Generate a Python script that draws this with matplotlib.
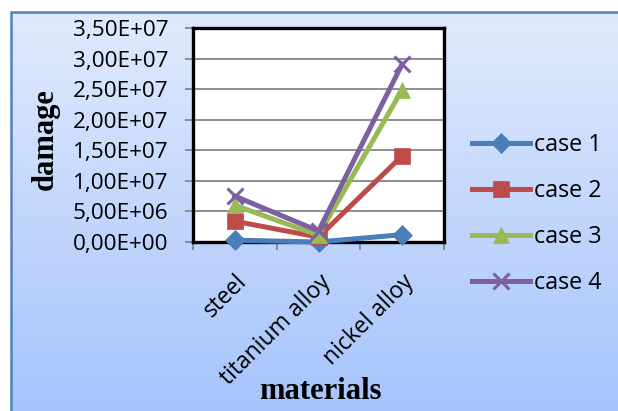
import numpy as np
import matplotlib.pyplot as plt
from matplotlib.patches import Rectangle
from matplotlib.ticker import FixedLocator, FuncFormatter

materials = ["steel", "titanium alloy", "nickel alloy"]
case1 = [0.3e6, 0.0, 1.2e6]
case2 = [3.4e6, 0.8e6, 14.1e6]
case3 = [6.0e6, 1.1e6, 24.9e6]
case4 = [7.5e6, 1.8e6, 29.1e6]
series = [("case 1", case1), ("case 2", case2), ("case 3", case3), ("case 4", case4)]
yticks = np.arange(0, 3.5e7 + 1, 5e6)

colors = ["#4a7ebb", "#be4b48", "#98b954", "#7d60a0"]
markers = ["D", "s", "^", "x"]
msizes = [10, 11, 11, 12]

W, H = 618, 411
fig = plt.figure(figsize=(W / 100, H / 100), dpi=100)
fig.patch.set_facecolor("white")

# chart area gradient background
bg = fig.add_axes([11 / W, 0, 1 - 11 / W, (H - 12) / H])
grad = np.linspace(0, 1, 256).reshape(-1, 1)
top = np.array([0xe0, 0xea, 0xfc]) / 255
bot = np.array([0xa6, 0xc4, 0xfd]) / 255
img = top + (bot - top) * grad[:, :, None]
bg.imshow(img, aspect="auto", extent=[0, 1, 0, 1], origin="upper")
bg.set_axis_off()
fig.patches.append(Rectangle((11 / W, -0.01), 1.0, (H - 12) / H + 0.01,
                             transform=fig.transFigure, fill=False,
                             edgecolor="#4f81bd", lw=1.8, zorder=5))

ax = fig.add_axes([193 / W, (H - 242) / H, (444 - 193) / W, (242 - 28) / H])
ax.set_facecolor("white")
x = np.arange(len(materials))
for (name, vals), c, m, ms in zip(series, colors, markers, msizes):
    ax.plot(x, vals, color=c, lw=3.6, marker=m, markersize=ms,
            markeredgewidth=2.2 if m == "x" else 0.5, markeredgecolor=c,
            label=name, clip_on=False, zorder=3)

ax.set_xlim(-0.5, 2.5)
ax.set_ylim(0, 3.5e7)
ax.yaxis.set_major_locator(FixedLocator(yticks))
ax.yaxis.set_major_formatter(FuncFormatter(
    lambda v, p: ("%.2E" % v).replace(".", ",")))
ax.grid(axis="y", color="#868686", lw=1.3)
ax.set_axisbelow(True)
ax.xaxis.set_major_locator(FixedLocator([-0.5, 0.5, 1.5, 2.5]))
ax.xaxis.set_minor_locator(FixedLocator(x))
ax.set_xticklabels([])
ax.set_xticklabels(materials, minor=True, rotation=45, ha="right",
                   rotation_mode="anchor", fontsize=16.5, family="Open Sans")
ax.tick_params(axis="x", which="minor", length=0, pad=20)
ax.tick_params(axis="both", which="major", color="#868686", width=1.3, length=5.8)
ax.tick_params(axis="y", labelsize=16.2, pad=12)
for lab in ax.get_yticklabels():
    lab.set_family("Open Sans")
for s in ax.spines.values():
    s.set_linewidth(2.4)
    s.set_color("black")

fig.text(45 / W, 1 - 139 / H, "damage", rotation=90, ha="center", va="center",
         fontsize=22, fontweight="bold", family="Liberation Serif")
fig.text(320 / W, 1 - 391 / H, "materials", ha="center", va="center",
         fontsize=22, fontweight="bold", family="Liberation Serif")

leg = fig.legend(loc="center left", bbox_to_anchor=(451 / W, 1 - 214 / H),
                 frameon=False, handlelength=2.5,
                 labelspacing=0.95, handletextpad=0.15,
                 prop={"family": "Open Sans", "size": 16.8})

fig.savefig("out.png", dpi=100)
